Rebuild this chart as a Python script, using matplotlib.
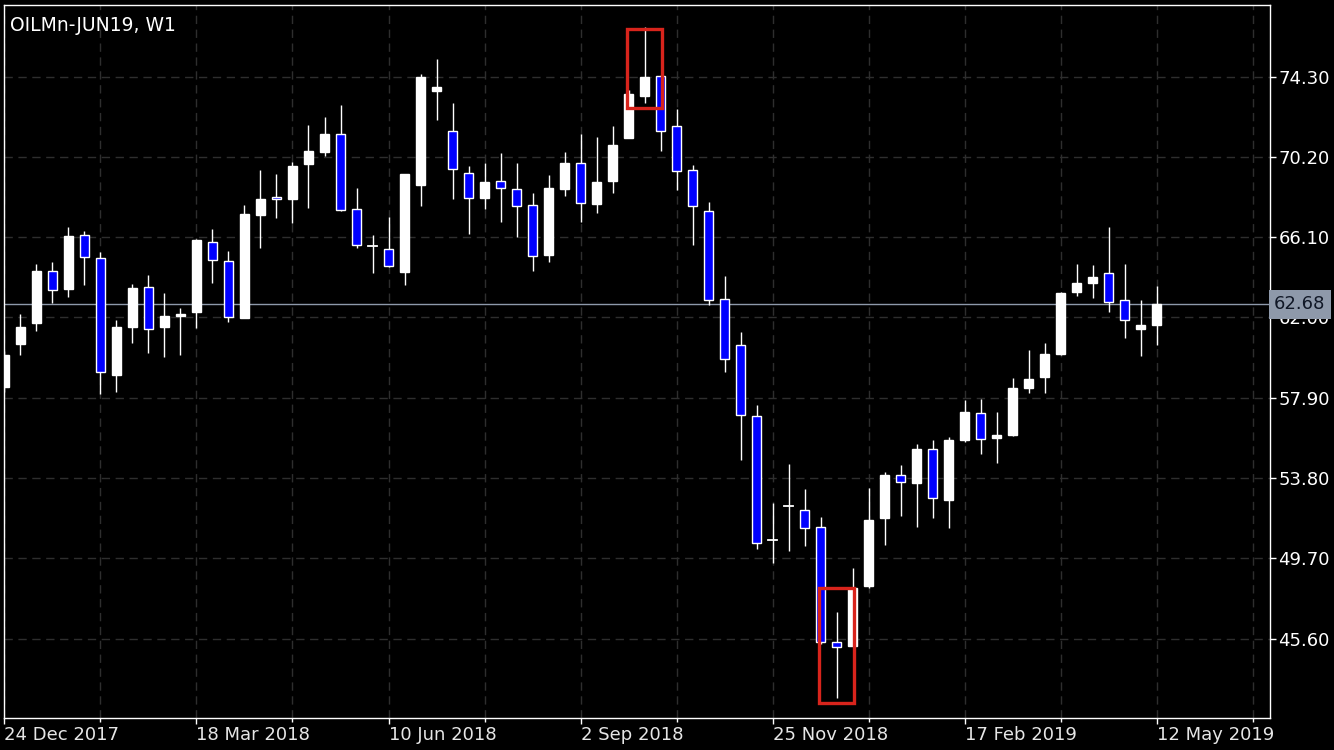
import matplotlib
matplotlib.use("Agg")
import matplotlib.pyplot as plt
from matplotlib.patches import Rectangle
import numpy as np

# ---------------- data ----------------
title = "OILMn-JUN19, W1"
opens = [58.47, 60.65, 61.73, 64.38, 63.46, 66.21, 65.02, 59.06, 61.53, 63.54, 61.53, 62.07, 62.30,
         65.84, 64.87, 61.99, 67.25, 68.16, 68.07, 69.86, 70.47, 71.36, 67.53, 65.65, 65.48, 64.34,
         68.77, 73.59, 71.53, 69.37, 68.12, 68.97, 68.55, 67.73, 65.19, 68.58, 69.88, 67.81, 68.99,
         71.19, 73.33, 74.35, 71.80, 69.52, 67.46, 62.93, 60.58, 56.95, 50.63, 52.35, 52.17, 51.28,
         45.41, 45.23, 48.30, 51.77, 53.95, 53.56, 55.27, 52.68, 55.74, 57.11, 55.86, 56.00, 58.41,
         58.98, 60.14, 63.32, 63.78, 64.26, 62.89, 61.43, 61.63]
highs = [60.30, 62.18, 64.73, 64.84, 66.64, 66.42, 65.35, 61.87, 63.71, 64.17, 63.27, 62.47, 66.00,
         66.51, 65.40, 67.75, 69.53, 69.33, 69.93, 71.83, 72.23, 72.86, 68.60, 66.21, 67.15, 69.35,
         74.44, 75.21, 72.97, 69.74, 69.88, 70.39, 69.88, 68.34, 69.28, 70.45, 71.37, 71.21, 71.78,
         73.60, 76.86, 74.40, 72.65, 69.79, 67.88, 64.12, 61.27, 57.53, 52.54, 54.52, 53.22, 51.82,
         46.94, 49.22, 53.27, 54.09, 54.47, 55.54, 55.74, 55.90, 57.79, 57.84, 57.17, 58.91, 60.34,
         60.68, 63.32, 64.73, 64.68, 66.61, 64.73, 62.89, 63.61]
lows = [58.20, 60.08, 61.33, 62.76, 63.06, 63.66, 58.09, 58.21, 60.71, 60.17, 59.97, 60.08, 61.45,
        63.75, 61.79, 61.95, 65.57, 67.10, 66.84, 67.61, 70.27, 67.46, 65.54, 64.26, 64.60, 63.66,
        67.71, 72.09, 68.05, 66.27, 67.54, 66.89, 66.13, 64.39, 64.85, 68.22, 66.86, 67.32, 68.34,
        71.17, 72.94, 70.52, 68.51, 65.70, 62.64, 59.23, 54.72, 50.16, 49.44, 50.09, 50.34, 45.30,
        42.55, 45.20, 48.17, 50.38, 51.87, 51.31, 51.77, 51.26, 55.66, 55.03, 54.55, 55.95, 58.13,
        58.16, 60.10, 63.11, 62.98, 62.30, 60.94, 60.03, 60.60]
closes = [60.08, 61.53, 64.39, 63.42, 66.18, 65.08, 59.23, 61.51, 63.49, 61.40, 62.08, 62.17, 65.96,
          64.92, 62.01, 67.29, 68.04, 68.04, 69.74, 70.52, 71.37, 67.51, 65.69, 65.65, 64.65, 69.33,
          74.30, 73.78, 69.57, 68.09, 68.91, 68.60, 67.71, 65.16, 68.63, 69.89, 67.83, 68.92, 70.81,
          73.42, 74.27, 71.53, 69.47, 67.68, 62.89, 59.86, 57.00, 50.46, 50.60, 52.33, 51.23, 45.41,
          45.17, 48.18, 51.66, 53.95, 53.58, 55.28, 52.76, 55.74, 57.17, 55.78, 56.00, 58.41, 58.86,
          60.14, 63.27, 63.78, 64.07, 62.78, 61.87, 61.60, 62.68]

date_labels = ["24 Dec 2017", "18 Mar 2018", "10 Jun 2018", "2 Sep 2018",
               "25 Nov 2018", "17 Feb 2019", "12 May 2019"]
date_label_idx = [0, 12, 24, 36, 48, 60, 72]
price_ticks = [45.60, 49.70, 53.80, 57.90, 62.00, 66.10, 70.20, 74.30]
last_price = 62.68
# highlighted boxes: (first idx, last idx, low, high)
box_candles = [(39, 41), (51, 53)]
box_prices = [(72.69, 76.72), (42.30, 48.18)]

# ---------------- figure ----------------
W, H, DPI = 1334, 750, 100
fig = plt.figure(figsize=(W / DPI, H / DPI), dpi=DPI, facecolor="black")
ax = fig.add_axes([4 / W, (750 - 718) / H, (1270 - 4) / W, (718 - 5) / H])
ax.set_facecolor("black")

n = len(closes)
x = np.arange(n)
bw = 0.52
for i in range(n):
    o, h, l, c = opens[i], highs[i], lows[i], closes[i]
    ax.plot([x[i], x[i]], [l, h], color="white", lw=1.0, zorder=3, solid_capstyle="butt")
    up = c >= o
    lo_b, hi_b = min(o, c), max(o, c)
    if hi_b - lo_b < 0.06:
        ax.plot([x[i] - bw / 2, x[i] + bw / 2], [o, o], color="white", lw=1.3, zorder=4)
        continue
    ax.add_patch(Rectangle((x[i] - bw / 2, lo_b), bw, hi_b - lo_b,
                           facecolor="white" if up else "#0000ff",
                           edgecolor="white", lw=1.0, zorder=4))

# highlight boxes
for (a, b), (pl, ph) in zip(box_candles, box_prices):
    ax.add_patch(Rectangle((a - 0.12, pl), (b - a) + 0.2, ph - pl, fill=False,
                           edgecolor="#d8241c", lw=2.4, zorder=6))

# price line
ax.axhline(last_price, color="#8e99aa", lw=1.0, zorder=2)

ax.set_xlim(-0.03, 79.09)
ax.set_ylim(41.54, 77.96)

# grid
ax.set_yticks(price_ticks)
ax.set_yticklabels([f"{v:.2f}" for v in price_ticks])
ax.set_xticks(date_label_idx)
ax.set_xticklabels(date_labels, ha="left")
ax.set_xticks(np.arange(6, 80, 12), minor=True)
ax.xaxis.grid(True, which="both", color="#2e2e2e", ls=(0, (6, 4)), lw=1.0)
ax.yaxis.grid(True, color="#2e2e2e", ls=(0, (6, 4)), lw=1.0)
ax.set_axisbelow(True)

ax.yaxis.tick_right()
ax.tick_params(axis="y", colors="white", labelcolor="white", length=4, width=1,
               labelsize=13, pad=2)
ax.tick_params(axis="x", which="major", colors="white", labelcolor="#e6e6e6", length=4,
               width=1, labelsize=13, pad=2)
ax.tick_params(axis="x", which="minor", colors="white", length=3, width=1)
for sp in ax.spines.values():
    sp.set_color("white")
    sp.set_linewidth(1.0)

for lab in ax.get_xticklabels() + ax.get_yticklabels():
    lab.set_family("DejaVu Sans")

# current price label
ax.annotate(f"{last_price:.2f}", xy=(1.0, last_price), xycoords=("axes fraction", "data"),
            xytext=(3, 0), textcoords="offset points", ha="left", va="center",
            fontsize=13, color="#111827", zorder=10, annotation_clip=False,
            bbox=dict(boxstyle="square,pad=0.3", facecolor="#8e99aa", edgecolor="none"))

ax.text(0.005, 0.985, title, transform=ax.transAxes, ha="left", va="top",
        color="white", fontsize=13.5, zorder=10)

fig.savefig("out.png", dpi=DPI, facecolor="black")
